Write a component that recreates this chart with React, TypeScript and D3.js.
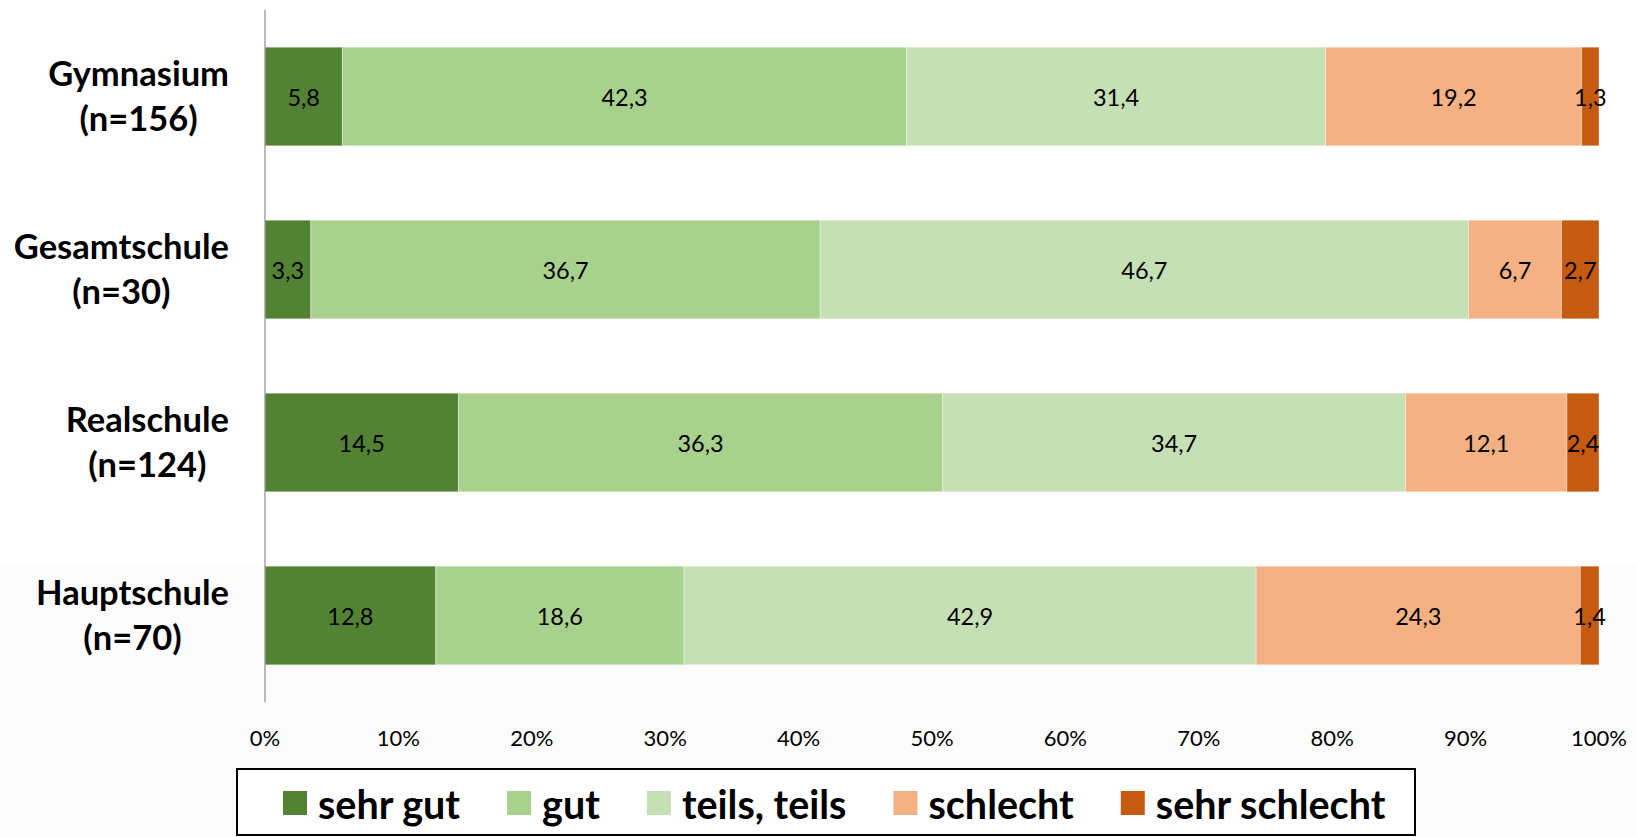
import { useRef, useEffect } from "react";
import * as d3 from "d3";

const schools = ["Gymnasium", "Gesamtschule", "Realschule", "Hauptschule"];
const sampleSizes = ["(n=156)", "(n=30)", "(n=124)", "(n=70)"];
const ratings = ["sehr gut", "gut", "teils, teils", "schlecht", "sehr schlecht"];
const colors = ["#548235", "#A9D18E", "#C5E0B4", "#F4B183", "#C55A11"];

// percentages per school, same order as `schools`
const sehrGut = [5.8, 3.3, 14.5, 12.8];
const gut = [42.3, 36.7, 36.3, 18.6];
const teilsTeils = [31.4, 46.7, 34.7, 42.9];
const schlecht = [19.2, 6.7, 12.1, 24.3];
const sehrSchlecht = [1.3, 2.7, 2.4, 1.4];

const tickValues = [0, 10, 20, 30, 40, 50, 60, 70, 80, 90, 100];

const series = [sehrGut, gut, teilsTeils, schlecht, sehrSchlecht];

export default function App() {
  const svgRef = useRef<SVGSVGElement | null>(null);

  useEffect(() => {
    if (!svgRef.current) return;
    const svg = d3.select(svgRef.current);
    svg.selectAll("*").remove();

    const width = 1637;
    const height = 837;
    const margin = { top: 10, left: 265, right: 38, bottom: 135 };
    const font = "Lato, 'Open Sans', sans-serif";

    // table for d3.stack
    const rows = schools.map((s, i) => {
      const row: Record<string, any> = { school: s };
      ratings.forEach((r, j) => (row[r] = series[j][i]));
      return row;
    });

    const stacked = d3.stack<any>().keys(ratings).offset(d3.stackOffsetExpand)(rows);

    const x = d3.scaleLinear().domain([0, 1]).range([margin.left, width - margin.right]);
    const y = d3
      .scaleBand<string>()
      .domain(schools)
      .range([margin.top, height - margin.bottom])
      .paddingInner(0.43)
      .paddingOuter(0.215);

    // faint background band at the bottom
    svg.append("rect").attr("x", 0).attr("y", 565).attr("width", width).attr("height", height - 565).attr("fill", "#fcfcfc");

    const fmt = (v: number) => v.toFixed(1).replace(".", ",");

    stacked.forEach((layer, j) => {
      const g = svg.append("g");
      g.selectAll("rect")
        .data(layer)
        .join("rect")
        .attr("x", (d) => x(d[0]))
        .attr("y", (d) => y(d.data.school)!)
        .attr("width", (d) => x(d[1]) - x(d[0]))
        .attr("height", y.bandwidth())
        .attr("fill", colors[j])
        .attr("stroke", "#ffffff")
        .attr("stroke-opacity", 0.35)
        .attr("stroke-width", 1);

      g.selectAll("text")
        .data(layer)
        .join("text")
        .attr("x", (d) => (x(d[0]) + x(d[1])) / 2)
        .attr("y", (d) => y(d.data.school)! + y.bandwidth() / 2)
        .attr("text-anchor", "middle")
        .attr("dominant-baseline", "central")
        .attr("font-family", font)
        .attr("font-size", 23.5)
        .attr("fill", "#000")
        .text((d) => fmt(d.data[ratings[j]]));
    });

    // vertical category axis line
    svg
      .append("line")
      .attr("x1", margin.left)
      .attr("x2", margin.left)
      .attr("y1", margin.top)
      .attr("y2", height - margin.bottom)
      .attr("stroke", "#8c8c8c")
      .attr("stroke-width", 1.2);

    // category labels: two centered lines, block right-aligned
    const labelRight = 229;
    schools.forEach((s, i) => {
      const cy = y(s)! + y.bandwidth() / 2;
      const g = svg.append("g");
      const lines = [s, sampleSizes[i]].map((t, k) =>
        g
          .append("text")
          .attr("y", cy + (k === 0 ? -24.5 : 20.5))
          .attr("text-anchor", "middle")
          .attr("dominant-baseline", "central")
          .attr("font-family", font)
          .attr("font-weight", 700)
          .attr("font-size", 34.5)
          .text(t)
      );
      const maxW = d3.max(lines, (l) => (l.node() as SVGTextElement).getComputedTextLength()) || 0;
      lines.forEach((l) => l.attr("x", labelRight - maxW / 2));
    });

    // x axis tick labels
    svg
      .append("g")
      .selectAll("text")
      .data(tickValues)
      .join("text")
      .attr("x", (d) => x(d / 100))
      .attr("y", 737)
      .attr("text-anchor", "middle")
      .attr("dominant-baseline", "central")
      .attr("font-family", font)
      .attr("font-size", 22)
      .attr("fill", "#000")
      .text((d) => `${d}%`);

    // legend
    svg
      .append("rect")
      .attr("x", 237)
      .attr("y", 769)
      .attr("width", 1415 - 237)
      .attr("height", 66)
      .attr("fill", "#fff")
      .attr("stroke", "#000")
      .attr("stroke-width", 2);

    let lx = 283;
    ratings.forEach((r, j) => {
      svg.append("rect").attr("x", lx).attr("y", 791).attr("width", 24).attr("height", 24).attr("fill", colors[j]);
      const t = svg
        .append("text")
        .attr("x", lx + 35)
        .attr("y", 803)
        .attr("dominant-baseline", "central")
        .attr("font-family", font)
        .attr("font-weight", 700)
        .attr("font-size", 39.5)
        .attr("fill", "#000")
        .text(r);
      lx += 35 + (t.node() as SVGTextElement).getComputedTextLength() + 47;
    });
  }, []);

  return (
    <div style={{ position: "absolute", left: 0, top: 0, width: 1637, height: 837, background: "#fff" }}>
      <svg ref={svgRef} width={1637} height={837} viewBox="0 0 1637 837" style={{ display: "block" }}></svg>
    </div>
  );
}
